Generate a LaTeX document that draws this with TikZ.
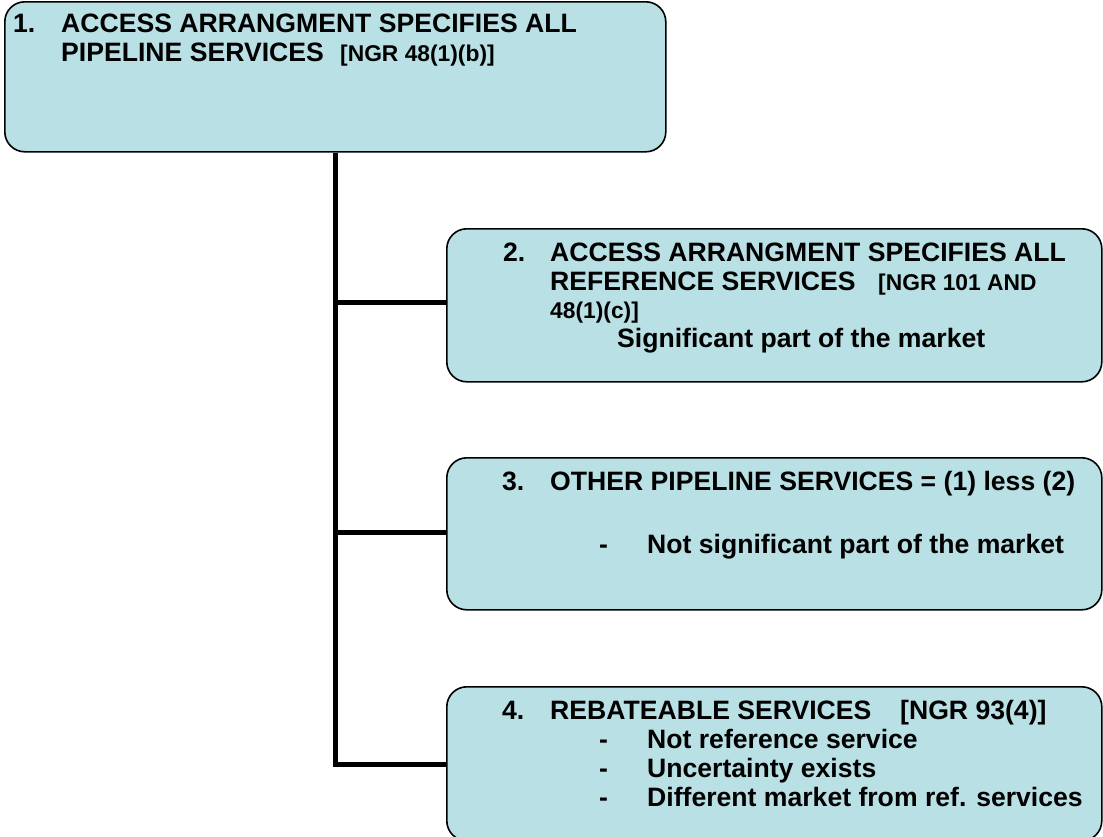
\documentclass[tikz,border=0pt]{standalone}
\usepackage{fontspec}
\setmainfont{Liberation Sans}
\definecolor{boxfill}{RGB}{185,224,228}
\tikzset{
  box/.style={draw=black, line width=1.6pt, fill=boxfill, rounded corners=20pt,
    rectangle, inner sep=0pt, anchor=north west},
  txt/.style={anchor=base west, inner sep=0pt, font=\fontsize{26.6}{29}\selectfont\bfseries},
  small/.style={anchor=base west, inner sep=0pt, font=\fontsize{22.8}{26}\selectfont\bfseries},
  conn/.style={draw=black, line width=5pt, line join=miter}
}
\begin{document}
\begin{tikzpicture}[x=1pt,y=-1pt]
\useasboundingbox (0,0) rectangle (1103,836);
% boxes
\node[box, minimum width=661pt, minimum height=150pt] (b1) at (4,1) {};
\node[box, minimum width=655pt, minimum height=153pt] (b2) at (446,228) {};
\node[box, minimum width=655pt, minimum height=152pt] (b3) at (446,457) {};
\node[box, minimum width=655pt, minimum height=154pt] (b4) at (446,686) {};
% connectors
\coordinate (j2) at (335,302);
\coordinate (j3) at (335,532);
\coordinate (j4) at (335,764);
\draw[conn] (b1.south -| j2) -- (j4) -- (j4 -| b4.west);
\draw[conn] (j2) -- (j2 -| b2.west);
\draw[conn] (j3) -- (j3 -| b3.west);
% box 1 text
\node[txt] (n1) at (13,32) {1.};
\node[txt] (t1a) at (61,32) {ACCESS ARRANGMENT SPECIFIES ALL};
\node[txt] (t1b) at (61,61) {PIPELINE SERVICES};
\node[small] (t1c) at (340,61) {[NGR 48(1)(b)]};
% box 2 text
\node[txt] (n2) at (503,261) {2.};
\node[txt] (t2a) at (550,261) {ACCESS ARRANGMENT SPECIFIES ALL};
\node[txt] (t2b) at (550,290) {REFERENCE SERVICES};
\node[small] (t2c) at (878,290) {[NGR 101 AND};
\node[small] (t2d) at (550,318) {48(1)(c)]};
\node[txt] (t2e) at (617,347) {Significant part of the market};
% box 3 text
\node[txt] (n3) at (502,490) {3.};
\node[txt] (t3a) at (550,490) {OTHER PIPELINE SERVICES = (1) less (2)};
\node[txt] (d3) at (599,553) {-};
\node[txt] (t3b) at (647,553) {Not significant part of the market};
% box 4 text
\node[txt] (n4) at (502,719) {4.};
\node[txt] (t4a) at (550,719) {REBATEABLE SERVICES};
\node[txt] (t4b) at (900,719) {[NGR 93(4)]};
\node[txt] (d4a) at (599,748) {-};
\node[txt] (t4c) at (647,748) {Not reference service};
\node[txt] (d4b) at (599,777) {-};
\node[txt] (t4d) at (647,777) {Uncertainty exists};
\node[txt] (d4c) at (599,806) {-};
\node[txt] (t4e) at (647,806) {Different market from ref. services};
\end{tikzpicture}
\end{document}
